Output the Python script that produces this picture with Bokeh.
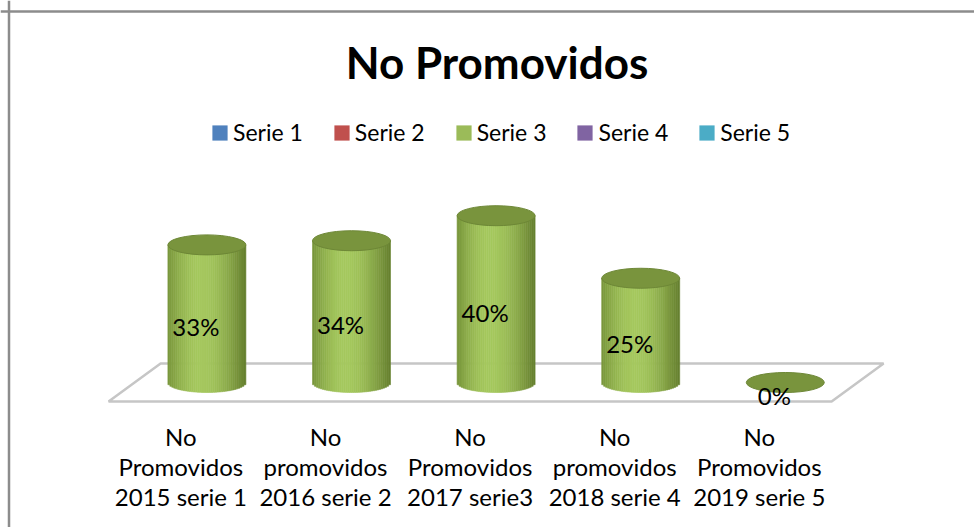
import numpy as np
from bokeh.plotting import figure
from bokeh.models import Range1d, Label, Legend, LegendItem, Span
from bokeh.core.properties import value
from bokeh.embed import file_html
from bokeh.resources import INLINE

# ---------------- data ----------------
title_text = "No Promovidos"
categories = [
    "No\nPromovidos\n2015 serie 1",
    "No\npromovidos\n2016 serie 2",
    "No\nPromovidos\n2017 serie3",
    "No\npromovidos\n2018 serie 4",
    "No\nPromovidos\n2019 serie 5",
]
series_names = ["Serie 1", "Serie 2", "Serie 3", "Serie 4", "Serie 5"]
series_colors = ["#4f81bd", "#c0504d", "#9bbb59", "#8064a2", "#4bacc6"]
serie3_values = [33, 34, 40, 25, 0]  # percent

# ---------------- layout ----------------
W, H = 974, 527
SX = 144.6   # px per category
SY = 4.17    # px per percent
FONT = "Lato"

x_start = -180.4 / SX
y_end = 382 / SY
p = figure(width=W, height=H, output_backend="svg", toolbar_location=None,
           x_range=Range1d(x_start, x_start + W / SX),
           y_range=Range1d(y_end - H / SY, y_end),
           x_axis_location=None, y_axis_location=None, min_border=0)
p.grid.visible = False
p.outline_line_color = None
p.background_fill_color = "white"
p.border_fill_color = "white"

n = len(categories)
idx = np.arange(n)
DX = 26 / SX      # half depth (x)
DY = 19 / SY      # half depth (y)
A = 39 / SX       # cylinder half width
B = 10 / SY       # ellipse half height

# floor
p.patch(x=[-0.5, n - 0.5, n - 0.5 + 2 * DX, -0.5 + 2 * DX],
        y=[-DY, -DY, DY, DY], fill_color="white",
        line_color="#c6c6c6", line_width=2.5)

# cylinders (side made of strips to imitate shading)
NS = 40
edges = np.linspace(-1, 1, NS + 1)
mids = (edges[:-1] + edges[1:]) / 2
left_c = np.array([120, 149, 58])
mid_c = np.array([165, 200, 94])
right_c = np.array([100, 126, 45])

def shade(u):
    peak = -0.15
    if u < peak:
        t = (u + 1) / (peak + 1)
        c = left_c + (mid_c - left_c) * np.sin(t * np.pi / 2)
    else:
        t = (u - peak) / (1 - peak)
        c = mid_c + (right_c - mid_c) * (1 - np.cos(t * np.pi / 2))
    return "#%02x%02x%02x" % tuple(int(round(v)) for v in c)

strip_colors = [shade(u) for u in mids]
L, R, T, Bt, C = [], [], [], [], []
for i, v in zip(idx, serie3_values):
    if v <= 0:
        continue
    xc = i + DX
    for k in range(NS):
        L.append(xc + edges[k] * A)
        R.append(xc + edges[k + 1] * A)
        T.append(v)
        Bt.append(-B * np.sqrt(max(0.0, 1 - mids[k] ** 2)))
        C.append(strip_colors[k])
p.quad(left=L, right=R, top=T, bottom=Bt, fill_color=C, line_color=C, line_width=0.6)

# tops
p.ellipse(x=idx + DX, y=serie3_values, width=2 * A, height=2 * B,
          fill_color="#79943d", line_color="#6d8736", line_width=1)

# data labels
p.text(x=idx + DX, y=np.array(serie3_values) / 2,
       text=[f"{v}%" for v in serie3_values],
       x_offset=-11, y_offset=13, text_align="center", text_baseline="middle",
       text_font=value(FONT), text_font_size="24px", text_color="black")

# category labels
p.text(x=idx, y=[-DY] * n, text=categories, y_offset=20,
       text_align="center", text_baseline="top", text_line_height=1.04,
       text_font=value(FONT), text_font_size="24px", text_color="black")

# border (top + left)
p.add_layout(Span(location=x_start + 8.5 / SX, dimension="height",
                  line_color="#8c8c8c", line_width=2.5))
p.add_layout(Span(location=y_end - 11 / SY, dimension="width",
                  line_color="#8c8c8c", line_width=2.5))

# title
p.add_layout(Label(x=496.5, y=H - 61, x_units="screen", y_units="screen",
                   text=title_text, text_align="center", text_baseline="middle",
                   text_font=FONT, text_font_style="bold", text_font_size="44px",
                   text_color="black"))

# legend (proxy renderers of zero size, one per series)
items = []
for name, col in zip(series_names, series_colors):
    r = p.vbar(x=idx, top=0, bottom=0, width=0, fill_color=col, line_color=None)
    items.append(LegendItem(label=name, renderers=[r]))
legend = Legend(items=items, orientation="horizontal", location=(210, H - 146),
                glyph_width=19, glyph_height=19, label_standoff=4, spacing=29,
                padding=0, margin=0, border_line_color=None,
                background_fill_alpha=0, label_text_font=FONT,
                label_text_font_size="23px", label_text_color="black")
p.add_layout(legend)

open("out.html", "w").write(file_html(p, INLINE))
